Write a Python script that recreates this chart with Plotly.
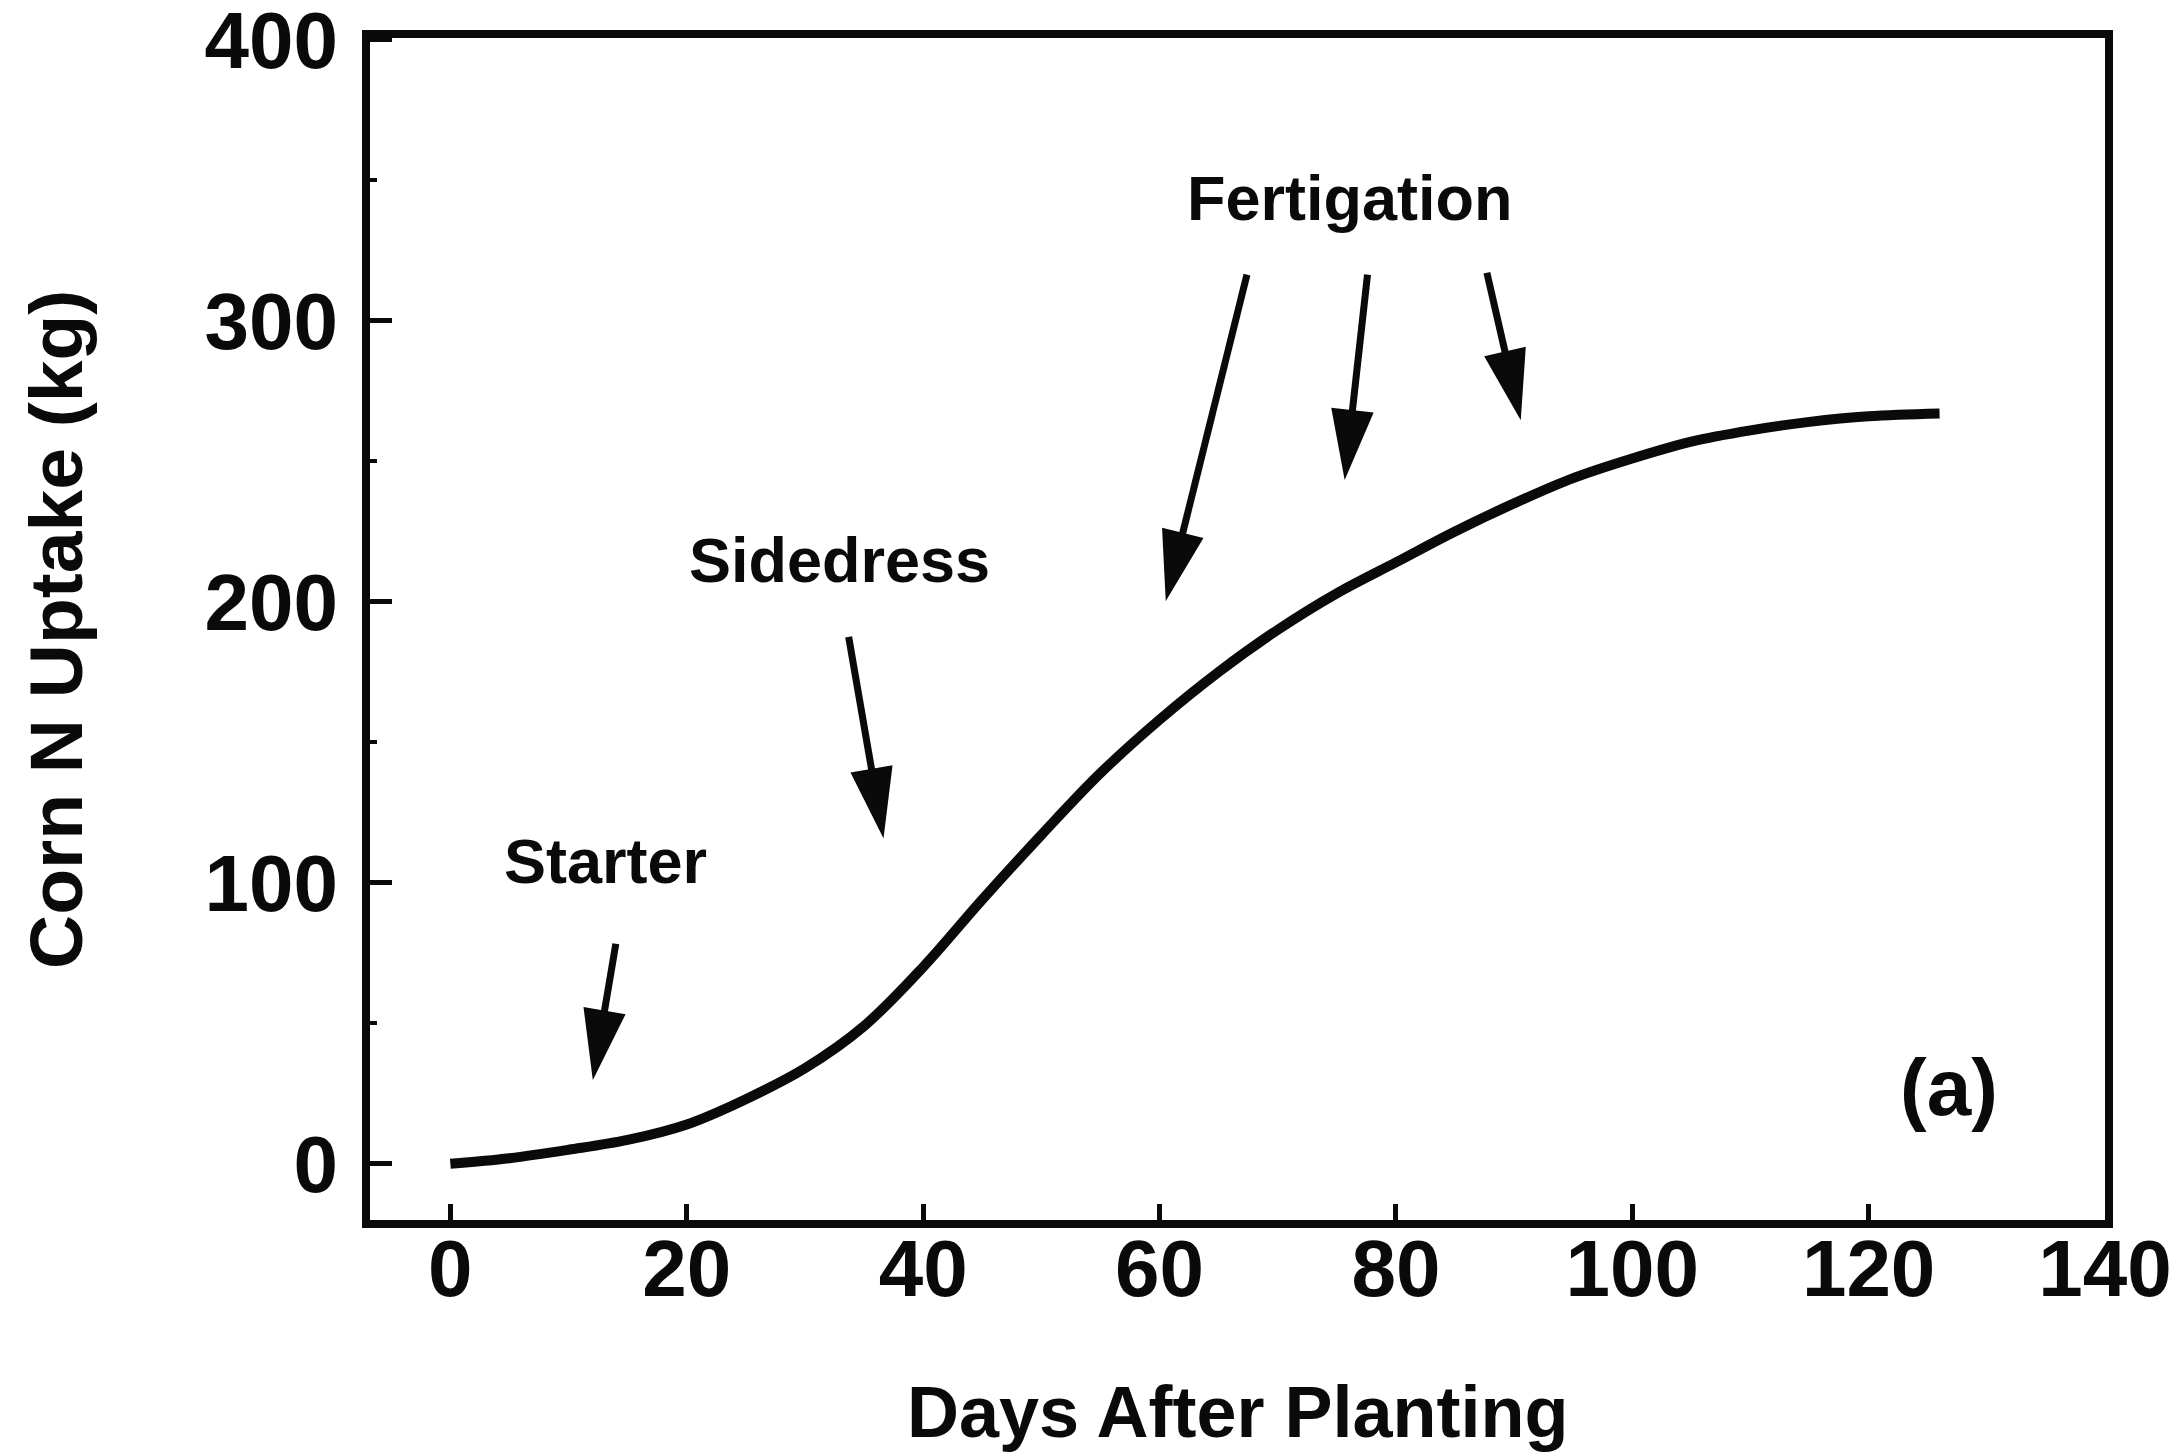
import math
import plotly.graph_objects as go

# Corn N uptake (kg) against days after planting
days = [0, 5, 10, 15, 20, 25, 30, 35, 40, 45, 50, 55, 60, 65, 70, 75,
        80, 85, 90, 95, 100, 105, 110, 115, 120, 126]
uptake = [0, 2, 5, 8.5, 14, 23, 34, 49, 70, 94, 117, 139, 158, 175, 190, 203,
          214, 225, 235, 244, 251, 257, 261, 264, 266, 267]

# Fertilizer application labels (centre of text, data units)
labels = ["Starter", "Sidedress", "Fertigation"]
label_days = [13.1, 32.9, 76.1]
label_vals = [107.8, 215.0, 343.8]

# Arrows: tail -> tip, data units
arrow_tail_days = [14.0, 33.7, 67.4, 77.6, 87.7]
arrow_tail_vals = [78.3, 187.5, 316.4, 316.4, 317.1]
arrow_tip_days = [12.1, 36.6, 60.6, 75.7, 90.5]
arrow_tip_vals = [31.0, 117.0, 201.4, 244.5, 265.8]

panel_label = "(a)"
panel_day, panel_val = 126.8, 27.0

x_ticks = [0, 20, 40, 60, 80, 100, 120, 140]
y_ticks = [0, 100, 200, 300, 400]
y_minor = [50, 150, 250, 350]

# ---- page geometry ----
W, H = 2171, 1452
ML, MR, MT, MB = 370, 66, 38, 232
XR = [-6.8, 140.0]
YR = [-20.0, 400.6]
sx = (W - ML - MR) / (XR[1] - XR[0])   # px per day
sy = (H - MT - MB) / (YR[1] - YR[0])   # px per kg

FONT = "Liberation Sans, Arial, Helvetica, sans-serif"
INK = "#0a0a0a"

fig = go.Figure()
fig.add_trace(go.Scatter(
    x=days, y=uptake, mode="lines",
    line=dict(color=INK, width=10, shape="spline", smoothing=1.0),
    hoverinfo="skip", showlegend=False,
))

# arrows: shaft as a line, head as a narrow filled triangle in pixel units
HEAD_LEN, HEAD_W = 66, 40
shapes = []
for td, tv, hd, hv in zip(arrow_tail_days, arrow_tail_vals, arrow_tip_days, arrow_tip_vals):
    dx = (hd - td) * sx
    dy = (hv - tv) * sy
    n = math.hypot(dx, dy)
    ux, uy = dx / n, dy / n
    bx, by = -ux * HEAD_LEN, -uy * HEAD_LEN
    px, py = -uy, ux
    c1 = (bx + px * HEAD_W / 2, by + py * HEAD_W / 2)
    c2 = (bx - px * HEAD_W / 2, by - py * HEAD_W / 2)
    path = f"M0,0 L{c1[0]:.2f},{c1[1]:.2f} L{c2[0]:.2f},{c2[1]:.2f} Z"
    shapes.append(dict(
        type="path", xref="x", yref="y", xsizemode="pixel", ysizemode="pixel",
        xanchor=hd, yanchor=hv, path=path,
        fillcolor=INK, line=dict(color=INK, width=2),
    ))
    shapes.append(dict(
        type="line", xref="x", yref="y",
        x0=td, y0=tv,
        x1=hd - ux * HEAD_LEN * 0.85 / sx, y1=hv - uy * HEAD_LEN * 0.85 / sy,
        line=dict(color=INK, width=7),
    ))

annotations = []
for t, d, v in zip(labels, label_days, label_vals):
    annotations.append(dict(
        x=d, y=v, xref="x", yref="y", text=t, showarrow=False,
        xanchor="center", yanchor="middle",
        font=dict(family=FONT, size=63, color=INK, weight="bold"),
    ))
annotations.append(dict(
    x=panel_day, y=panel_val, xref="x", yref="y", text=panel_label, showarrow=False,
    xanchor="center", yanchor="middle",
    font=dict(family=FONT, size=80, color=INK, weight="bold"),
))
# axis titles
annotations.append(dict(
    x=0.5, y=-0.1624, xref="paper", yref="paper", text="Days After Planting",
    showarrow=False, xanchor="center", yanchor="middle",
    font=dict(family=FONT, size=72, color=INK, weight="bold"),
))
annotations.append(dict(
    x=-0.181, y=0.5, xref="paper", yref="paper", text="Corn N Uptake (kg)",
    showarrow=False, xanchor="center", yanchor="middle", textangle=-90,
    font=dict(family=FONT, size=75, color=INK, weight="bold"),
))

tickfont = dict(family=FONT, size=80, color=INK, weight="bold")
fig.update_layout(
    width=W, height=H,
    margin=dict(l=ML, r=MR, t=MT, b=MB, pad=0, autoexpand=False),
    paper_bgcolor="white", plot_bgcolor="white",
    showlegend=False,
    shapes=shapes, annotations=annotations,
    xaxis=dict(
        range=XR, tickmode="array", tickvals=x_ticks,
        ticktext=[str(v) for v in x_ticks],
        ticks="inside", ticklen=16, tickwidth=5, tickcolor=INK,
        showline=True, linecolor=INK, linewidth=8, mirror=True,
        showgrid=False, zeroline=False, tickfont=tickfont,
        ticklabelstandoff=-28, ticklabeloverflow="allow", automargin=False,
    ),
    yaxis=dict(
        range=YR, tickmode="array", tickvals=y_ticks,
        ticktext=[str(v) for v in y_ticks],
        ticks="inside", ticklen=22, tickwidth=5, tickcolor=INK,
        minor=dict(tickvals=y_minor, ticks="inside", ticklen=7,
                   tickwidth=4, tickcolor=INK),
        showline=True, linecolor=INK, linewidth=8, mirror=True,
        showgrid=False, zeroline=False, tickfont=tickfont,
        ticklabelstandoff=8, ticklabeloverflow="allow", automargin=False,
    ),
)

fig.write_html("out.html")
